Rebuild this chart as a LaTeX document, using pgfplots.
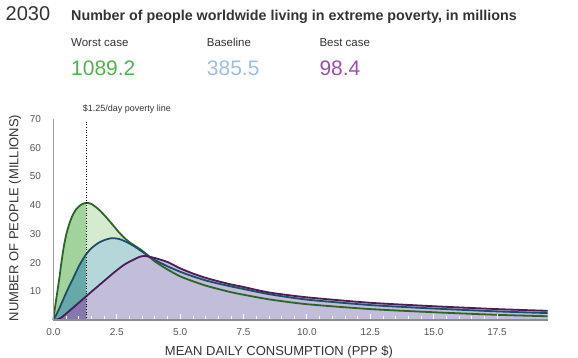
\documentclass[border=0pt]{standalone}
\usepackage{fontspec}
\setmainfont{Liberation Sans}
\usepackage{pgfplots}
\pgfplotsset{compat=1.18}
\usepackage{pgfplotstable}

\definecolor{txt}{HTML}{333333}
\definecolor{lblgray}{HTML}{555555}
\definecolor{axgray}{HTML}{8C8C8C}
\definecolor{ygray}{HTML}{A0A0A0}
\definecolor{gDark}{HTML}{A3D39C}
\definecolor{gLight}{HTML}{D4EBD0}
\definecolor{gLine}{HTML}{2E6428}
\definecolor{bDark}{HTML}{65A9A8}
\definecolor{bLight}{HTML}{B5D7DA}
\definecolor{bLine}{HTML}{1F4E6B}
\definecolor{pDark}{HTML}{8677AC}
\definecolor{pLight}{HTML}{C2BDD9}
\definecolor{pLine}{HTML}{4B1E57}
\definecolor{numG}{HTML}{52B24E}
\definecolor{numB}{HTML}{9BBFDF}
\definecolor{numP}{HTML}{9B4FA6}

\pgfplotstableread{
x y
0 0
0.05 3.5
0.1 6.5
0.15 9.5
0.2 12.5
0.25 15.5
0.3 19
0.4 25
0.5 29.5
0.62 33.3
0.75 36.3
0.9 38.6
1.1 40.2
1.3 40.8
1.5 40.4
1.75 38.8
2.0 36.6
2.2 34.6
2.4 32.5
2.6 30.4
2.8 28.6
3.0 27.1
3.2 25.9
3.4 24.8
3.7 22.7
4.0 20.4
4.5 17.6
5.0 15.2
5.5 13.5
6.0 12.0
6.5 10.8
7.0 9.7
7.5 8.8
8.5 7.2
10 5.5
12.5 3.8
15 2.7
17.5 1.8
19.5 1.3
}\worsttab

\pgfplotstableread{
x y
0 0
0.1 1.6
0.2 3.4
0.3 5.4
0.4 7.4
0.5 9.4
0.62 11.7
0.75 14.0
0.9 16.8
1.05 19.5
1.3 23.0
1.5 25.0
1.75 26.7
2.0 27.8
2.3 28.5
2.6 28.2
2.9 27.1
3.2 25.6
3.5 23.8
3.8 22.0
4.0 20.9
4.5 18.7
5.0 16.8
5.5 15.2
6.0 13.8
6.5 12.7
7.0 11.7
7.5 10.8
8.5 9.0
10 7.1
12.5 5.2
15 4.0
17.5 3.0
19.5 2.4
}\basetab

\pgfplotstableread{
x y
0 0
0.15 0.2
0.3 0.8
0.5 2.2
0.75 4.1
1.0 6.0
1.3 8.3
1.6 10.6
2.0 13.6
2.4 16.6
2.8 19.3
3.2 21.2
3.4 22.0
3.6 22.3
4.0 21.6
4.5 20.2
5.0 18.0
5.5 16.2
6.0 14.7
6.5 13.5
7.0 12.4
7.5 11.5
8.5 9.6
10 7.9
12.5 6.0
15 4.8
17.5 3.8
19.5 3.2
}\besttab

\begin{document}
\begin{tikzpicture}
\useasboundingbox (0,0) rectangle (578pt,358pt);

% header
\node[anchor=base west, inner sep=0, text=txt, font=\fontsize{20}{24}\selectfont] at (5.5pt,337pt) {2030};
\node[anchor=base west, inner sep=0, text=txt, font=\fontsize{14.3}{17}\selectfont\bfseries] at (71pt,337pt) {Number of people worldwide living in extreme poverty, in millions};
\node[anchor=base west, inner sep=0, text=txt, font=\fontsize{11.5}{14}\selectfont] at (71pt,311.3pt) {Worst case};
\node[anchor=base west, inner sep=0, text=txt, font=\fontsize{11.5}{14}\selectfont] at (206.7pt,311.3pt) {Baseline};
\node[anchor=base west, inner sep=0, text=txt, font=\fontsize{11.5}{14}\selectfont] at (319.3pt,311.3pt) {Best case};
\node[anchor=base west, inner sep=0, text=numG, font=\fontsize{21}{25}\selectfont] at (71pt,282pt) {1089.2};
\node[anchor=base west, inner sep=0, text=numB, font=\fontsize{21}{25}\selectfont] at (206.7pt,282pt) {385.5};
\node[anchor=base west, inner sep=0, text=numP, font=\fontsize{21}{25}\selectfont] at (319.3pt,282pt) {98.4};

% axis labels
\node[rotate=90, anchor=center, inner sep=0, text=txt, font=\fontsize{13}{15}\selectfont] at (15pt,140pt) {NUMBER OF PEOPLE (MILLIONS)};
\node[anchor=base, inner sep=0, text=txt, font=\fontsize{13}{15}\selectfont] at (279pt,2pt) {MEAN DAILY CONSUMPTION (PPP \$)};

\begin{axis}[
  at={(53.4pt,38pt)}, anchor=south west,
  scale only axis, width=494.3pt, height=201pt,
  xmin=0, xmax=19.5, ymin=0, ymax=70,
  axis x line=bottom, axis y line=left,
  x axis line style={-, draw=axgray, line width=1.6pt},
  y axis line style={-, draw=ygray, line width=0.7pt},
  xtick={0,2.5,...,17.5}, minor x tick num=4,
  ytick={10,20,...,70},
  xtick align=inside,
  major tick length=6pt, minor tick length=3.5pt,
  xtick style={draw=white, line width=0.8pt},
  minor x tick style={draw=white, line width=0.6pt},
  ytick style={draw=none},
  /pgf/number format/assume math mode=true,
  xticklabel style={font=\fontsize{10}{12}\selectfont, text=lblgray, anchor=center, yshift=-12pt,
    /pgf/number format/.cd, fixed, fixed zerofill, precision=1},
  yticklabel style={font=\fontsize{10}{12}\selectfont, text=lblgray, anchor=center, xshift=-15pt},
  axis on top,
  clip=false,
]
% fills
\addplot[draw=none, fill=gDark, smooth, tension=0.4, restrict x to domain=0:1.3] table {\worsttab} \closedcycle;
\addplot[draw=none, fill=gLight, smooth, tension=0.4, restrict x to domain=1.3:19.5] table {\worsttab} \closedcycle;
\addplot[draw=none, fill=bDark, smooth, tension=0.4, restrict x to domain=0:1.3] table {\basetab} \closedcycle;
\addplot[draw=none, fill=bLight, smooth, tension=0.4, restrict x to domain=1.3:19.5] table {\basetab} \closedcycle;
\addplot[draw=none, fill=pDark, smooth, tension=0.4, restrict x to domain=0:1.3] table {\besttab} \closedcycle;
\addplot[draw=none, fill=pLight, smooth, tension=0.4, restrict x to domain=1.3:19.5] table {\besttab} \closedcycle;
% lines
\addplot[gLine, line width=1.8pt, smooth, tension=0.4] table {\worsttab};
\addplot[bLine, line width=1.8pt, smooth, tension=0.4] table {\basetab};
\addplot[pLine, line width=1.8pt, smooth, tension=0.4] table {\besttab};
% poverty line
\draw[black, dotted, line width=0.6pt] (axis cs:1.3,0) -- (axis cs:1.3,69.5);
\node[anchor=base west, inner sep=0, text=txt, font=\fontsize{9}{11}\selectfont] at (axis cs:1.15,72.6) {\$1.25/day poverty line};
\end{axis}
\end{tikzpicture}
\end{document}
